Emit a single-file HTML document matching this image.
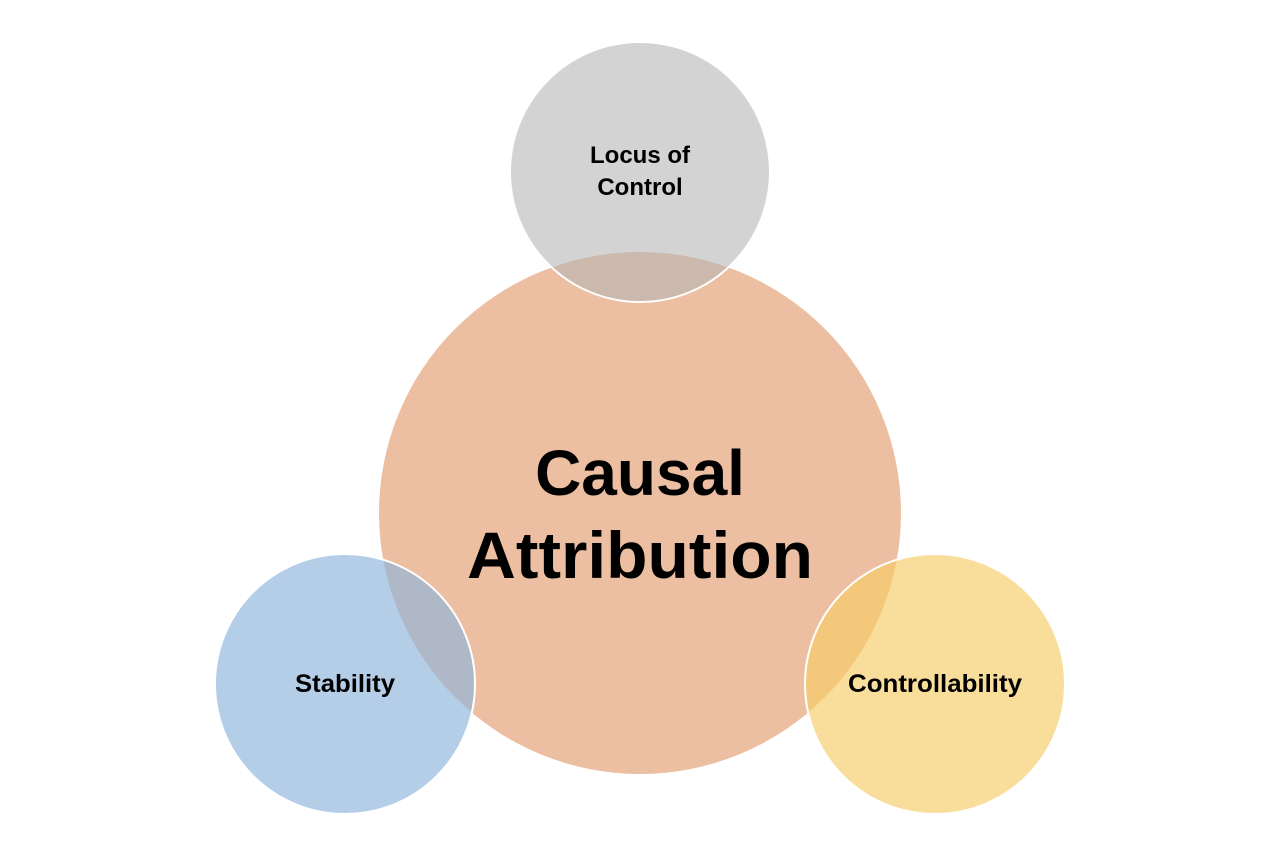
<!DOCTYPE html>
<html><head><style>
html,body{margin:0;padding:0;background:#fff;}
svg{display:block;}
text{font-family:"Liberation Sans",sans-serif;font-weight:bold;fill:#000;text-anchor:middle;}
</style></head><body>
<svg width="1280" height="854" viewBox="0 0 1280 854">
<circle cx="640" cy="513" r="261" fill="#EDBFA2"/>
<circle cx="640" cy="172" r="130" fill="#B6B6B6" fill-opacity="0.6" stroke="#fff" stroke-width="2"/>
<circle cx="345" cy="684" r="130" fill="#8DB4DC" fill-opacity="0.65" stroke="#fff" stroke-width="2"/>
<circle cx="935" cy="684" r="130" fill="#F6CC66" fill-opacity="0.65" stroke="#fff" stroke-width="2"/>
<text x="640" y="495" font-size="64">Causal</text>
<text x="640" y="578" font-size="66" textLength="346" lengthAdjust="spacingAndGlyphs">Attribution</text>
<text x="640" y="163" font-size="24">Locus of</text>
<text x="640" y="195" font-size="24">Control</text>
<text x="345" y="692" font-size="25" textLength="100" lengthAdjust="spacingAndGlyphs">Stability</text>
<text x="935" y="692" font-size="25" textLength="174" lengthAdjust="spacingAndGlyphs">Controllability</text>
</svg>
</body></html>
